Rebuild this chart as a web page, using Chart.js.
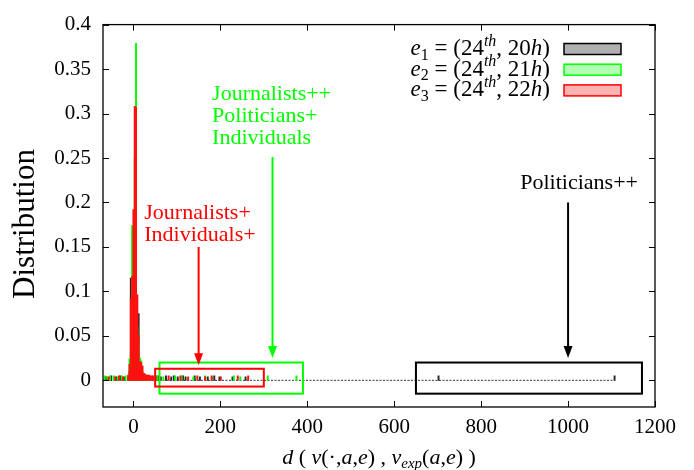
<!DOCTYPE html>
<html>
<head>
<meta charset="utf-8">
<script src="https://cdn.jsdelivr.net/npm/chart.js@4.4.1/dist/chart.umd.min.js"></script>
<style>
  html, body { margin: 0; padding: 0; background: #fff; }
  #chart { display: block; }
</style>
</head>
<body>
<canvas id="chart" width="694" height="470"></canvas>
<script>
// Histogrammes (classes de largeur 3) autour du pic
const peakBins = [-12, -9, -6, -3, 0, 3, 6, 9, 12, 15, 18, 21, 24, 27, 30];
const e1Peak = [0.004, 0.01, 0.115, 0.06, 0.1, 0.15, 0.1, 0.05, 0.075, 0.012, 0.006, 0.004, 0.003, 0.004, 0.003];
const e2Peak = [0.005, 0.024, 0.03, 0.174, 0.15, 0.25, 0.379, 0.06, 0.04, 0.025, 0.022, 0.01, 0.008, 0.006, 0.005];
const e3Peak = [0.006, 0.018, 0.092, 0.117, 0.192, 0.308, 0.307, 0.096, 0.051, 0.021, 0.02, 0.016, 0.008, 0.007, 0.006];

// Petites barres éparses
const e1TailX = [-63, -51, -39, -30, -21, 57, 63, 75, 87, 93, 102, 114, 120, 141, 153, 171, 186, 198, 228, 258, 702, 1107];
const e1TailY = [0.004, 0.005, 0.004, 0.005, 0.004, 0.005, 0.004, 0.005, 0.004, 0.005, 0.004, 0.005, 0.004, 0.005, 0.004, 0.004, 0.005, 0.004, 0.004, 0.004, 0.005, 0.005];
const e2TailX = [-66, -60, -54, -45, -36, -27, -18, 54, 69, 96, 111, 138, 165, 180, 231, 246, 309, 375];
const e2TailY = [0.005, 0.004, 0.005, 0.005, 0.004, 0.005, 0.005, 0.005, 0.004, 0.005, 0.005, 0.004, 0.005, 0.004, 0.005, 0.004, 0.005, 0.005];
const e3TailX = [-57, -42, -33, -24, 33, 36, 39, 42, 45, 51, 60, 81, 108, 126, 147, 165, 180, 201, 240, 264];
const e3TailY = [0.004, 0.004, 0.005, 0.004, 0.006, 0.006, 0.005, 0.005, 0.005, 0.005, 0.004, 0.005, 0.005, 0.004, 0.005, 0.004, 0.005, 0.004, 0.005, 0.005];

const zeroLineX = [-70, 1107];

const xTicks = [0, 200, 400, 600, 800, 1000, 1200];
const yTicks = [0, 0.05, 0.1, 0.15, 0.2, 0.25, 0.3, 0.35, 0.4];

const seriesLabels = ['e1', 'e2', 'e3'];
const seriesHours = ['20', '21', '22'];

// Annotations (coordonnées en unités des données)
const boxes = [
  { x0: 60, x1: 390, y0: -0.015, y1: 0.02, color: '#00ff00' },
  { x0: 50, x1: 300, y0: -0.007, y1: 0.013, color: '#ff0000' },
  { x0: 650, x1: 1170, y0: -0.015, y1: 0.02, color: '#000000' }
];
const arrows = [
  { x: 150, y0: 0.15, y1: 0.017, color: '#ff0000' },
  { x: 320, y0: 0.251, y1: 0.025, color: '#00ff00' },
  { x: 1000, y0: 0.2, y1: 0.025, color: '#000000' }
];
const notes = [
  { x: 25, y: 0.181, lines: ['Journalists+', 'Individuals+'], color: '#ff0000' },
  { x: 181, y: 0.315, lines: ['Journalists++', 'Politicians+', 'Individuals'], color: '#00ff00' },
  { x: 890, y: 0.215, lines: ['Politicians++'], color: '#000000' }
];

function toPoints(xs, ys) {
  return xs.map((x, i) => ({ x: x, y: ys[i] }));
}

const SERIF = "'Liberation Serif'";
Chart.defaults.font.family = SERIF;
Chart.defaults.color = '#000';

function drawRich(ctx, segs, x, y, align, size) {
  const small = Math.round(size * 0.68);
  const fontOf = s => (s.i ? 'italic ' : '') + (s.sub || s.sup ? small : size) + 'px ' + SERIF;
  let total = 0;
  segs.forEach(s => { ctx.font = fontOf(s); total += ctx.measureText(s.t).width; });
  let cx = align === 'right' ? x - total : (align === 'center' ? x - total / 2 : x);
  ctx.textAlign = 'left';
  ctx.textBaseline = 'alphabetic';
  segs.forEach(s => {
    ctx.font = fontOf(s);
    const dy = s.sub ? size * 0.2 : (s.sup ? -size * 0.4 : 0);
    ctx.fillText(s.t, cx, y + dy);
    cx += ctx.measureText(s.t).width;
  });
}

const decorPlugin = {
  id: 'decor',
  afterDatasetsDraw(chart) {
    const ctx = chart.ctx;
    const a = chart.chartArea;
    const xs = chart.scales.x, ys = chart.scales.y;
    ctx.save();

    // cadre
    ctx.strokeStyle = '#000';
    ctx.lineWidth = 1.3;
    ctx.strokeRect(a.left, a.top, a.right - a.left, a.bottom - a.top);

    // graduations intérieures (4 côtés)
    ctx.lineWidth = 1;
    ctx.beginPath();
    xTicks.forEach(v => {
      const px = Math.round(xs.getPixelForValue(v)) + 0.5;
      ctx.moveTo(px, a.bottom); ctx.lineTo(px, a.bottom - 6);
      ctx.moveTo(px, a.top); ctx.lineTo(px, a.top + 6);
    });
    yTicks.forEach(v => {
      const py = Math.round(ys.getPixelForValue(v)) + 0.5;
      ctx.moveTo(a.left, py); ctx.lineTo(a.left + 6, py);
      ctx.moveTo(a.right, py); ctx.lineTo(a.right - 6, py);
    });
    ctx.stroke();

    // rectangles
    ctx.lineWidth = 2;
    boxes.forEach(b => {
      const x0 = xs.getPixelForValue(b.x0), x1 = xs.getPixelForValue(b.x1);
      const y0 = ys.getPixelForValue(b.y0), y1 = ys.getPixelForValue(b.y1);
      ctx.strokeStyle = b.color;
      ctx.strokeRect(x0, y1, x1 - x0, y0 - y1);
    });

    // flèches
    arrows.forEach(ar => {
      const px = xs.getPixelForValue(ar.x);
      const pyTop = ys.getPixelForValue(ar.y0), pyTip = ys.getPixelForValue(ar.y1);
      ctx.strokeStyle = ar.color;
      ctx.fillStyle = ar.color;
      ctx.lineWidth = 2;
      ctx.beginPath();
      ctx.moveTo(px, pyTop); ctx.lineTo(px, pyTip - 8);
      ctx.stroke();
      ctx.beginPath();
      ctx.moveTo(px, pyTip);
      ctx.lineTo(px - 4.5, pyTip - 12);
      ctx.lineTo(px + 4.5, pyTip - 12);
      ctx.closePath();
      ctx.fill();
    });

    // étiquettes
    ctx.font = '22px ' + SERIF;
    ctx.textAlign = 'left';
    ctx.textBaseline = 'alphabetic';
    notes.forEach(n => {
      ctx.fillStyle = n.color;
      const px = xs.getPixelForValue(n.x), py = ys.getPixelForValue(n.y);
      n.lines.forEach((l, i) => ctx.fillText(l, px, py + i * 22));
    });

    // légende
    const keyFill = ['#b0b0b0', '#b3ffb3', '#ffb3b3'];
    const keyLine = ['#000000', '#00ff00', '#ff0000'];
    seriesLabels.forEach((lab, i) => {
      const base = 55 + i * 20.5;
      ctx.fillStyle = '#000';
      drawRich(ctx, [
        { t: lab[0], i: 1 }, { t: lab.slice(1), sub: 1 },
        { t: ' = (24' }, { t: 'th', i: 1, sup: 1 }, { t: ', ' + seriesHours[i] },
        { t: 'h', i: 1 }, { t: ')' }
      ], 550, base, 'right', 23);
      const ky = 43.5 + i * 20.7;
      ctx.fillStyle = keyFill[i];
      ctx.fillRect(564, ky, 57, 11);
      ctx.strokeStyle = keyLine[i];
      ctx.lineWidth = 1.5;
      ctx.strokeRect(564, ky, 57, 11);
    });

    // titres des axes
    ctx.fillStyle = '#000';
    drawRich(ctx, [
      { t: 'd', i: 1 }, { t: ' ( ' }, { t: 'v', i: 1 }, { t: '(·,' }, { t: 'a', i: 1 }, { t: ',' },
      { t: 'e', i: 1 }, { t: ') , ' }, { t: 'v', i: 1 }, { t: 'exp', i: 1, sub: 1 }, { t: '(' },
      { t: 'a', i: 1 }, { t: ',' }, { t: 'e', i: 1 }, { t: ') )' }
    ], (a.left + a.right) / 2, 464, 'center', 22);

    ctx.translate(34, 224);
    ctx.rotate(-Math.PI / 2);
    ctx.font = '31px ' + SERIF;
    ctx.textAlign = 'center';
    ctx.textBaseline = 'alphabetic';
    ctx.fillText('Distribution', 0, 0);

    ctx.restore();
  }
};

const tickFont = { family: SERIF, size: 21 };

new Chart(document.getElementById('chart').getContext('2d'), {
  type: 'bar',
  data: {
    datasets: [
      {
        label: 'zero',
        type: 'line',
        data: toPoints(zeroLineX, [0, 0]),
        borderColor: '#333',
        borderWidth: 1,
        borderDash: [2, 1.5],
        pointRadius: 0,
        order: 4
      },
      {
        label: seriesLabels[0],
        data: toPoints(peakBins, e1Peak).concat(toPoints(e1TailX, e1TailY)),
        backgroundColor: '#2a2a2a',
        grouped: false,
        barPercentage: 1,
        categoryPercentage: 1,
        order: 3
      },
      {
        label: seriesLabels[1],
        data: toPoints(peakBins, e2Peak).concat(toPoints(e2TailX, e2TailY)),
        backgroundColor: '#00ff00',
        grouped: false,
        barPercentage: 1,
        categoryPercentage: 1,
        order: 2
      },
      {
        label: seriesLabels[2],
        data: toPoints(peakBins, e3Peak).concat(toPoints(e3TailX, e3TailY)),
        backgroundColor: '#ff1010',
        grouped: false,
        barPercentage: 1,
        categoryPercentage: 1,
        order: 1
      }
    ]
  },
  options: {
    responsive: false,
    animation: false,
    devicePixelRatio: 1,
    layout: { padding: { left: 0, right: 39, top: 19, bottom: 0 } },
    plugins: {
      legend: { display: false },
      tooltip: { enabled: false }
    },
    scales: {
      x: {
        type: 'linear',
        min: -70,
        max: 1200,
        offset: false,
        afterBuildTicks: s => { s.ticks = xTicks.map(v => ({ value: v })); },
        afterFit: s => { s.height = 63; },
        grid: { display: false, drawTicks: false },
        border: { display: false },
        ticks: { color: '#000', font: tickFont, padding: 8, maxRotation: 0, autoSkip: false,
          callback: v => String(v) }
      },
      y: {
        min: -0.03,
        max: 0.4,
        afterBuildTicks: s => { s.ticks = yTicks.map(v => ({ value: v })); },
        afterFit: s => { s.width = 103; },
        grid: { display: false, drawTicks: false },
        border: { display: false },
        ticks: { color: '#000', font: tickFont, padding: 12, autoSkip: false,
          callback: v => String(v) }
      }
    }
  },
  plugins: [decorPlugin]
});
</script>
</body>
</html>
